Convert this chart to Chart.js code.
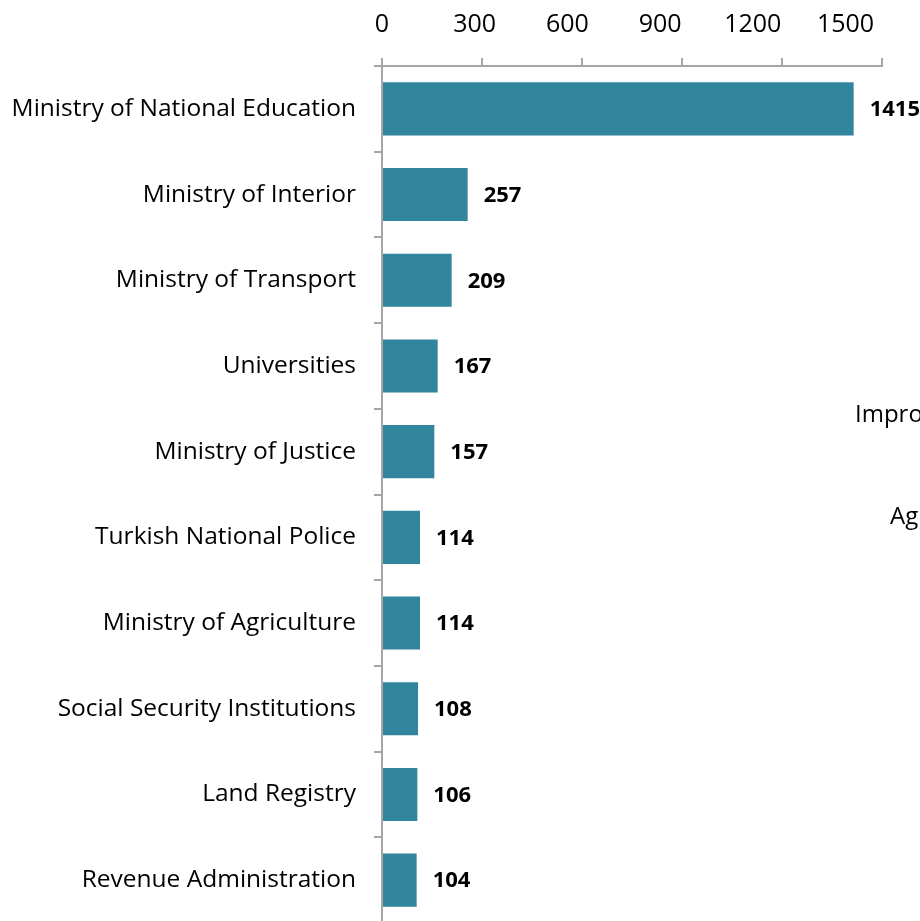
<!DOCTYPE html>
<html>
<head>
<meta charset="utf-8">
<script src="https://cdn.jsdelivr.net/npm/chart.js@4.4.0/dist/chart.umd.min.js"></script>
<style>
  html, body { margin: 0; padding: 0; background: #fff; overflow: hidden; }
  canvas { display: block; }
</style>
</head>
<body>
<canvas id="c" width="920" height="923" style="width:920px;height:923px"></canvas>
<script>
const categories = [
  "Ministry of National Education",
  "Ministry of Interior",
  "Ministry of Transport",
  "Universities",
  "Ministry of Justice",
  "Turkish National Police",
  "Ministry of Agriculture",
  "Social Security Institutions",
  "Land Registry",
  "Revenue Administration"
];
const values = [1415, 257, 209, 167, 157, 114, 114, 108, 106, 104];
const xTicks = [0, 300, 600, 900, 1200, 1500];
const clippedTexts = ["Impro", "Ag"];

const FONT = "'Open Sans', 'DejaVu Sans', sans-serif";
const AXIS_GRAY = "#a6a6a6";

const dataLabels = {
  id: "dataLabels",
  afterDatasetsDraw(chart) {
    const ctx = chart.ctx;
    const meta = chart.getDatasetMeta(0);
    ctx.save();
    ctx.font = "bold 22px " + FONT;
    ctx.fillStyle = "#000";
    ctx.textAlign = "left";
    ctx.textBaseline = "middle";
    meta.data.forEach((bar, i) => {
      ctx.fillText(String(values[i]), bar.x + 16, bar.y + 1);
    });
    ctx.restore();
  }
};

// x tick labels: drawn in the source slightly compressed towards the origin
const topTickLabels = {
  id: "topTickLabels",
  afterDraw(chart) {
    const ctx = chart.ctx;
    const xs = chart.scales.x;
    ctx.save();
    ctx.font = "25px " + FONT;
    ctx.fillStyle = "#000";
    ctx.textAlign = "center";
    ctx.textBaseline = "middle";
    xTicks.forEach(v => {
      const px = xs.left + (xs.getPixelForValue(v) - xs.left) * 0.927;
      ctx.fillText(String(v), px, 25);
    });
    ctx.restore();
  }
};

const strayText = {
  id: "strayText",
  afterDraw(chart) {
    const ctx = chart.ctx;
    const ys = chart.scales.y;
    ctx.save();
    ctx.font = "24px " + FONT;
    ctx.fillStyle = "#000";
    ctx.textAlign = "left";
    ctx.textBaseline = "middle";
    // partially visible labels cut off at the right edge
    ctx.fillText(clippedTexts[0], 855, ys.getPixelForValue(3.57));
    ctx.fillText(clippedTexts[1], 890, ys.getPixelForValue(4.76));
    ctx.restore();
  }
};

new Chart(document.getElementById("c"), {
  type: "bar",
  data: {
    labels: categories,
    datasets: [{
      data: values,
      backgroundColor: "#31859c",
      borderWidth: 0,
      categoryPercentage: 1.0,
      barPercentage: 0.62
    }]
  },
  options: {
    indexAxis: "y",
    responsive: false,
    maintainAspectRatio: false,
    devicePixelRatio: 1,
    animation: false,
    layout: { padding: { left: 0, right: 38, top: 0, bottom: 0 } },
    plugins: { legend: { display: false }, tooltip: { enabled: false } },
    scales: {
      x: {
        position: "top",
        min: 0,
        max: 1500,
        afterBuildTicks(scale) { scale.ticks = xTicks.map(v => ({ value: v })); },
        afterFit(scale) { scale.height = 66; scale.paddingLeft = 0; scale.paddingRight = 0; },
        grid: {
          drawOnChartArea: false,
          drawTicks: true,
          tickLength: 8,
          color: AXIS_GRAY,
          lineWidth: 2
        },
        border: { display: true, color: AXIS_GRAY, width: 2 },
        ticks: { display: false }
      },
      y: {
        offset: true,
        afterFit(scale) { scale.width = 382; scale.paddingTop = 0; scale.paddingBottom = 0; },
        grid: {
          offset: true,
          drawOnChartArea: false,
          drawTicks: true,
          tickLength: 8,
          color: AXIS_GRAY,
          lineWidth: 2
        },
        border: { display: true, color: AXIS_GRAY, width: 2 },
        ticks: {
          font: { family: FONT, size: 24.5 },
          color: "#000",
          padding: 18,
          autoSkip: false
        }
      }
    }
  },
  plugins: [dataLabels, topTickLabels, strayText]
});
</script>
</body>
</html>
